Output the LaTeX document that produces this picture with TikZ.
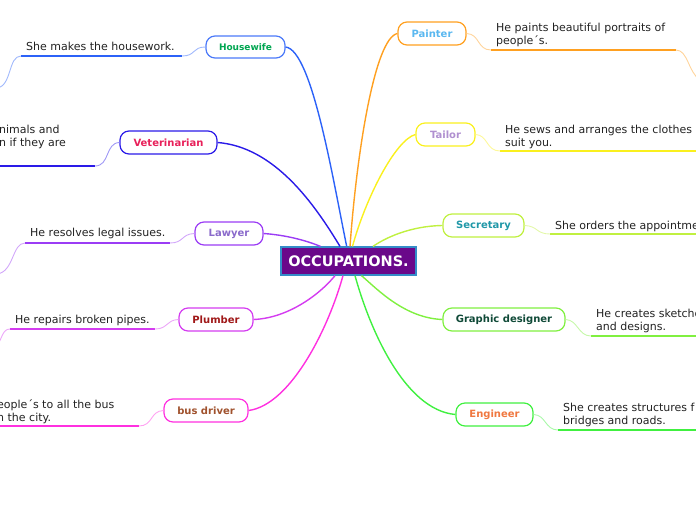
\documentclass[tikz,border=0pt]{standalone}
\usepackage{fontspec}
\setmainfont{DejaVu Sans}
\definecolor{occf}{RGB}{106,8,138}
\definecolor{occb}{RGB}{52,140,200}
\definecolor{txt}{RGB}{34,34,34}
\definecolor{hwc}{RGB}{44,98,248}
\definecolor{hwt}{RGB}{0,166,81}
\definecolor{vec}{RGB}{42,26,232}
\definecolor{vet}{RGB}{232,32,90}
\definecolor{lac}{RGB}{155,60,245}
\definecolor{lat}{RGB}{138,106,203}
\definecolor{plc}{RGB}{212,60,240}
\definecolor{plt}{RGB}{160,24,24}
\definecolor{bdc}{RGB}{255,48,224}
\definecolor{bdt}{RGB}{160,82,45}
\definecolor{pac}{RGB}{255,160,32}
\definecolor{pat}{RGB}{90,184,240}
\definecolor{tac}{RGB}{250,240,30}
\definecolor{tat}{RGB}{176,144,208}
\definecolor{sec}{RGB}{192,240,64}
\definecolor{set}{RGB}{32,152,168}
\definecolor{gdc}{RGB}{128,240,64}
\definecolor{gdt}{RGB}{16,74,56}
\definecolor{enc}{RGB}{64,240,64}
\definecolor{ent}{RGB}{240,120,64}
\begin{document}
\begin{tikzpicture}[x=1pt,y=-1pt,
  topic/.style={draw, fill=white, rounded corners=9pt, line width=1.2pt, minimum height=23pt, inner sep=0pt, font=\bfseries\fontsize{10}{12}\selectfont},
  desc/.style={anchor=north west, inner sep=0pt, align=left, text=txt, font=\fontsize{11}{13.3}\selectfont},
  branch/.style={line width=1.4pt},
  uline/.style={line width=2.4pt},
  thinl/.style={line width=0.9pt},
]
\useasboundingbox (0,0) rectangle (696,520);
\clip (0,0) rectangle (696,520);

% central node
\node[fill=occf, draw=occb, line width=1.2pt, text=white, font=\bfseries\fontsize{14.5}{16}\selectfont, minimum width=135pt, minimum height=28pt, inner sep=0pt] (c) at (348.5,261) {OCCUPATIONS.};

% topics
\node[topic, draw=hwc!85, text=hwt, minimum width=79pt, minimum height=22pt, font=\bfseries\fontsize{9}{11}\selectfont] (hw) at (245.5,47) {Housewife};
\node[topic, draw=vec, text=vet, minimum width=97pt] (ve) at (168.5,142.5) {Veterinarian};
\node[topic, draw=lac, text=lat, minimum width=68pt] (la) at (229,233.5) {Lawyer};
\node[topic, draw=plc, text=plt, minimum width=74pt] (pl) at (216,319.5) {Plumber};
\node[topic, draw=bdc, text=bdt, minimum width=84pt] (bd) at (206,410.5) {bus driver};
\node[topic, draw=pac, text=pat, minimum width=68pt] (pa) at (432,33.5) {Painter};
\node[topic, draw=tac, text=tat, minimum width=59pt] (ta) at (445.5,134.5) {Tailor};
\node[topic, draw=sec, text=set, minimum width=81pt] (se) at (483.5,225.5) {Secretary};
\node[topic, draw=gdc, text=gdt, minimum width=122pt] (gd) at (504,319.5) {Graphic designer};
\node[topic, draw=enc, text=ent, minimum width=77pt] (en) at (494.5,414.5) {Engineer};

% branches to centre
\draw[branch, hwc] (hw.east) .. controls (312,50) and (333,180) .. ([xshift=-1.8pt]c.north);
\draw[branch, vec] (ve.east) .. controls (275,147) and (315,205) .. ([xshift=-8.5pt]c.north);
\draw[branch, lac] (la.east) .. controls (285,235) and (305,240) .. ([xshift=-28pt]c.north);
\draw[branch, plc] (pl.east) .. controls (290,318) and (322,292) .. ([xshift=-13.5pt]c.south);
\draw[branch, bdc] (bd.east) .. controls (290,405) and (328,330) .. ([xshift=-5.5pt]c.south);
\draw[branch, pac] (pa.west) .. controls (375,38) and (357,150) .. ([xshift=1.5pt]c.north);
\draw[branch, tac] (ta.west) .. controls (395,140) and (365,200) .. ([xshift=4pt]c.north);
\draw[branch, sec] (se.west) .. controls (410,226) and (385,238) .. ([xshift=24.5pt]c.north);
\draw[branch, gdc] (gd.west) .. controls (405,318) and (378,290) .. ([xshift=13pt]c.south);
\draw[branch, enc] (en.west) .. controls (405,410) and (370,330) .. ([xshift=6.5pt]c.south);

% Housewife
\node[desc] (hwd) at (26,42) {She makes the housework.};
\coordinate (hwa) at (21,56); \coordinate (hwb) at (182,56); \coordinate (hwe) at (-3,88);
\draw[uline, hwc] (hwa) -- (hwb);
\draw[thinl, hwc!45] (hwb) .. controls (196,56) and (192,47) .. (hw.west);
\draw[thinl, hwc!45] (hwa) .. controls (8,56) and (12,86) .. (hwe);

% Veterinarian
\node[desc] (ved) at (-1,125) {nimals and\\n if they are};
\coordinate (vea) at (-5,166); \coordinate (veb) at (95,166);
\draw[uline, vec] (vea) -- (veb);
\draw[thinl, vec!45] (veb) .. controls (110,166) and (105,143) .. (ve.west);

% Lawyer
\node[desc] (lad) at (30,228) {He resolves legal issues.};
\coordinate (laa) at (25,243); \coordinate (lab) at (170,243); \coordinate (lae) at (-3,274);
\draw[uline, lac] (laa) -- (lab);
\draw[thinl, lac!45] (lab) .. controls (184,243) and (181,234) .. (la.west);
\draw[thinl, lac!45] (laa) .. controls (12,243) and (14,272) .. (lae);

% Plumber
\node[desc] (pld) at (15,315) {He repairs broken pipes.};
\coordinate (pla) at (10,329); \coordinate (plb) at (155,329); \coordinate (ple) at (-3,345);
\draw[uline, plc] (pla) -- (plb);
\draw[thinl, plc!45] (plb) .. controls (168,329) and (166,320) .. (pl.west);
\draw[thinl, plc!45] (pla) .. controls (2,329) and (2,340) .. (ple);

% bus driver
\node[desc] (bdd) at (-3,399) {eople´s to all the bus\\n the city.};
\coordinate (bda) at (-5,426); \coordinate (bdb) at (139,426);
\draw[uline, bdc] (bda) -- (bdb);
\draw[thinl, bdc!45] (bdb) .. controls (153,426) and (150,411) .. (bd.west);

% Painter
\node[desc] (pad) at (496,23) {He paints beautiful portraits of\\people´s.};
\coordinate (paa) at (491,50); \coordinate (pab) at (676,50); \coordinate (pae) at (700,80);
\draw[uline, pac] (paa) -- (pab);
\draw[thinl, pac!45] (pa.east) .. controls (480,34) and (477,50) .. (paa);
\draw[thinl, pac!45] (pab) .. controls (688,50) and (688,72) .. (pae);

% Tailor
\node[desc] (tad) at (505,125) {He sews and arranges the clothes\\suit you.};
\coordinate (taa) at (500,151); \coordinate (tab) at (700,151);
\draw[uline, tac] (taa) -- (tab);
\draw[thinl, tac!45] (ta.east) .. controls (488,135) and (486,151) .. (taa);

% Secretary
\node[desc] (sed) at (555,221) {She orders the appointme};
\coordinate (sea) at (550,234); \coordinate (seb) at (700,234);
\draw[uline, sec] (sea) -- (seb);
\draw[thinl, sec!45] (se.east) .. controls (538,226) and (536,234) .. (sea);

% Graphic designer
\node[desc] (gdd) at (596,309) {He creates sketche\\and designs.};
\coordinate (gda) at (591,336); \coordinate (gdb) at (700,336);
\draw[uline, gdc] (gda) -- (gdb);
\draw[thinl, gdc!45] (gd.east) .. controls (578,320) and (578,336) .. (gda);

% Engineer
\node[desc] (end) at (563,403) {She creates structures f\\bridges and roads.};
\coordinate (ena) at (558,430); \coordinate (enb) at (700,430);
\draw[uline, enc] (ena) -- (enb);
\draw[thinl, enc!45] (en.east) .. controls (546,415) and (545,430) .. (ena);
\end{tikzpicture}
\end{document}
